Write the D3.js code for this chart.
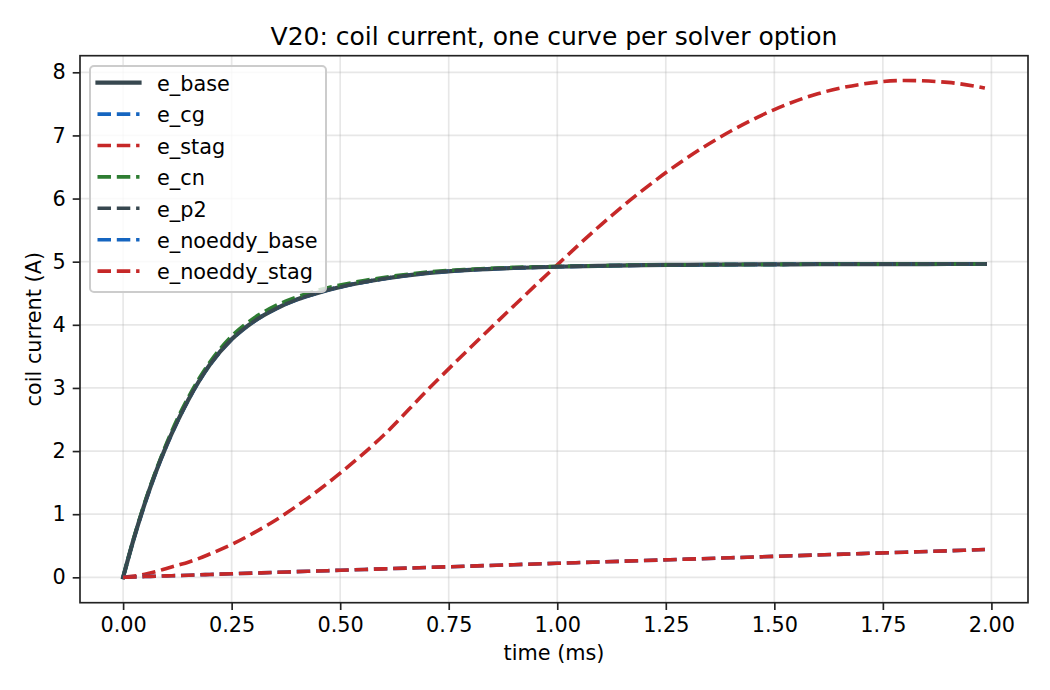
<!DOCTYPE html>
<html>
<head>
<meta charset="utf-8">
<script src="https://cdn.jsdelivr.net/npm/d3@7"></script>
<style>
  html, body { margin: 0; padding: 0; background: #fff; }
  svg { display: block; font-family: "DejaVu Sans", sans-serif; }
</style>
</head>
<body>
<svg id="chart" width="1050" height="690"></svg>
<script>
// time samples (ms)
const time = [0, 0.025, 0.05, 0.075, 0.1, 0.125, 0.15, 0.175, 0.2, 0.25, 0.3, 0.35, 0.4, 0.45, 0.5,
  0.6, 0.7, 0.8, 0.9, 1.0, 1.1, 1.2, 1.3, 1.4, 1.5, 1.6, 1.7, 1.8, 1.9, 1.985];

// coil current (A) per solver option
const eBase = [0, 0.62, 1.17, 1.66, 2.09, 2.47, 2.81, 3.11, 3.37, 3.77, 4.05, 4.25, 4.40, 4.51, 4.60,
  4.73, 4.82, 4.87, 4.90, 4.92, 4.935, 4.945, 4.95, 4.955, 4.957, 4.96, 4.96, 4.962, 4.963, 4.963];
const eCg = [0, 0.62, 1.17, 1.66, 2.09, 2.47, 2.81, 3.11, 3.37, 3.77, 4.05, 4.25, 4.40, 4.51, 4.60,
  4.73, 4.82, 4.87, 4.90, 4.92, 4.935, 4.945, 4.95, 4.955, 4.957, 4.96, 4.96, 4.962, 4.963, 4.963];
const eStag = [0, 0.02, 0.05, 0.09, 0.14, 0.19, 0.24, 0.30, 0.37, 0.52, 0.70, 0.90, 1.13, 1.38, 1.65,
  2.25, 2.96, 3.64, 4.30, 4.95, 5.58, 6.15, 6.65, 7.07, 7.41, 7.66, 7.81, 7.87, 7.84, 7.75];
const eCn = [0, 0.63, 1.19, 1.68, 2.12, 2.51, 2.85, 3.15, 3.41, 3.82, 4.10, 4.30, 4.44, 4.55, 4.63,
  4.75, 4.835, 4.88, 4.91, 4.925, 4.937, 4.946, 4.951, 4.955, 4.957, 4.96, 4.96, 4.962, 4.963, 4.963];
const eP2 = [0, 0.62, 1.17, 1.66, 2.09, 2.47, 2.81, 3.11, 3.37, 3.77, 4.05, 4.25, 4.40, 4.51, 4.60,
  4.73, 4.82, 4.87, 4.90, 4.92, 4.935, 4.945, 4.95, 4.955, 4.957, 4.96, 4.96, 4.962, 4.963, 4.963];
const eNoeddyBase = [0, 0.006, 0.012, 0.017, 0.023, 0.028, 0.034, 0.039, 0.045, 0.056, 0.067, 0.078, 0.09, 0.10, 0.112,
  0.134, 0.156, 0.178, 0.20, 0.222, 0.244, 0.266, 0.288, 0.31, 0.332, 0.354, 0.376, 0.398, 0.42, 0.44];
const eNoeddyStag = [0, 0.006, 0.012, 0.017, 0.023, 0.028, 0.034, 0.039, 0.045, 0.056, 0.067, 0.078, 0.09, 0.10, 0.112,
  0.134, 0.156, 0.178, 0.20, 0.222, 0.244, 0.266, 0.288, 0.31, 0.332, 0.354, 0.376, 0.398, 0.42, 0.44];

const seriesNames = ['e_base', 'e_cg', 'e_stag', 'e_cn', 'e_p2', 'e_noeddy_base', 'e_noeddy_stag'];
const seriesValues = [eBase, eCg, eStag, eCn, eP2, eNoeddyBase, eNoeddyStag];
const seriesColors = ['#37474f', '#1565c0', '#c62828', '#2e7d32', '#37474f', '#1565c0', '#c62828'];
const seriesDashed = [false, true, true, true, true, true, true];

const xTicks = [0, 0.25, 0.5, 0.75, 1.0, 1.25, 1.5, 1.75, 2.0];
const yTicks = [0, 1, 2, 3, 4, 5, 6, 7, 8];

const margin = { left: 80, right: 1028, top: 55.7, bottom: 602.7 };
const fontSize = 20.8;

const svg = d3.select('#chart');

const x = d3.scaleLinear().domain([-0.0993, 2.0843]).range([margin.left, margin.right]);
const y = d3.scaleLinear().domain([-0.402, 8.263]).range([margin.bottom, margin.top]);

// grid
const grid = svg.append('g').attr('stroke', '#b0b0b0').attr('stroke-opacity', 0.3).attr('stroke-width', 1.67);
grid.selectAll('.gx').data(xTicks).join('line')
  .attr('x1', d => x(d)).attr('x2', d => x(d))
  .attr('y1', margin.top).attr('y2', margin.bottom);
grid.selectAll('.gy').data(yTicks).join('line')
  .attr('y1', d => y(d)).attr('y2', d => y(d))
  .attr('x1', margin.left).attr('x2', margin.right);

// lines
svg.append('clipPath').attr('id', 'clip')
  .append('rect')
  .attr('x', margin.left).attr('y', margin.top)
  .attr('width', margin.right - margin.left).attr('height', margin.bottom - margin.top);

const lineGen = vals => d3.line()
  .x((d, i) => x(time[i]))
  .y(d => y(d))
  .curve(d3.curveMonotoneX)(vals);

svg.append('g').attr('clip-path', 'url(#clip)')
  .selectAll('path')
  .data(seriesValues)
  .join('path')
  .attr('d', d => lineGen(d))
  .attr('fill', 'none')
  .attr('stroke', (d, i) => seriesColors[i])
  .attr('stroke-width', (d, i) => seriesDashed[i] ? 3.6 : 4.2)
  .attr('stroke-dasharray', (d, i) => seriesDashed[i] ? '13.5,5.8' : null)
  .attr('stroke-linejoin', 'round')
  .attr('stroke-linecap', (d, i) => seriesDashed[i] ? 'butt' : 'square');

// axes
const xAxis = d3.axisBottom(x).tickValues(xTicks).tickFormat(d3.format('.2f')).tickSize(7.3).tickPadding(7);
const yAxis = d3.axisLeft(y).tickValues(yTicks).tickFormat(d3.format('d')).tickSize(7.3).tickPadding(7);

const gx = svg.append('g').attr('transform', `translate(0,${margin.bottom})`).call(xAxis);
const gy = svg.append('g').attr('transform', `translate(${margin.left},0)`).call(yAxis);
[gx, gy].forEach(g => {
  g.select('.domain').remove();
  g.selectAll('.tick line').attr('stroke', '#222').attr('stroke-width', 1.67);
  g.selectAll('.tick text').attr('fill', '#000').style('font-size', fontSize + 'px')
    .style('font-family', '"DejaVu Sans", sans-serif');
});

// spines
svg.append('rect')
  .attr('x', margin.left).attr('y', margin.top)
  .attr('width', margin.right - margin.left).attr('height', margin.bottom - margin.top)
  .attr('fill', 'none').attr('stroke', '#222').attr('stroke-width', 1.67);

// labels
const cx = (margin.left + margin.right) / 2;
svg.append('text').attr('x', cx).attr('y', 45).attr('text-anchor', 'middle')
  .style('font-size', '25px').text('V20: coil current, one curve per solver option');
svg.append('text').attr('x', cx).attr('y', 660).attr('text-anchor', 'middle')
  .style('font-size', fontSize + 'px').text('time (ms)');
svg.append('text')
  .attr('transform', `translate(41,${(margin.top + margin.bottom) / 2}) rotate(-90)`)
  .attr('text-anchor', 'middle')
  .style('font-size', fontSize + 'px').text('coil current (A)');

// legend
const legend = svg.append('g');
legend.append('rect')
  .attr('x', 90).attr('y', 66).attr('width', 236).attr('height', 226).attr('rx', 4)
  .attr('fill', '#fff').attr('fill-opacity', 0.8)
  .attr('stroke', '#cccccc').attr('stroke-width', 2);

const rowY = i => 82.7 + i * 31.4;
legend.selectAll('.lg-line')
  .data(seriesNames)
  .join('line')
  .attr('x1', 97.5).attr('x2', 139.5)
  .attr('y1', (d, i) => rowY(i)).attr('y2', (d, i) => rowY(i))
  .attr('stroke', (d, i) => seriesColors[i])
  .attr('stroke-width', (d, i) => seriesDashed[i] ? 3.6 : 4.2)
  .attr('stroke-dasharray', (d, i) => seriesDashed[i] ? '13.5,5.8' : null)
  .attr('stroke-linecap', (d, i) => seriesDashed[i] ? 'butt' : 'square');

legend.selectAll('.lg-text')
  .data(seriesNames)
  .join('text')
  .attr('x', 157).attr('y', (d, i) => rowY(i)).attr('dy', '0.4em')
  .style('font-size', fontSize + 'px')
  .text(d => d);
</script>
</body>
</html>
